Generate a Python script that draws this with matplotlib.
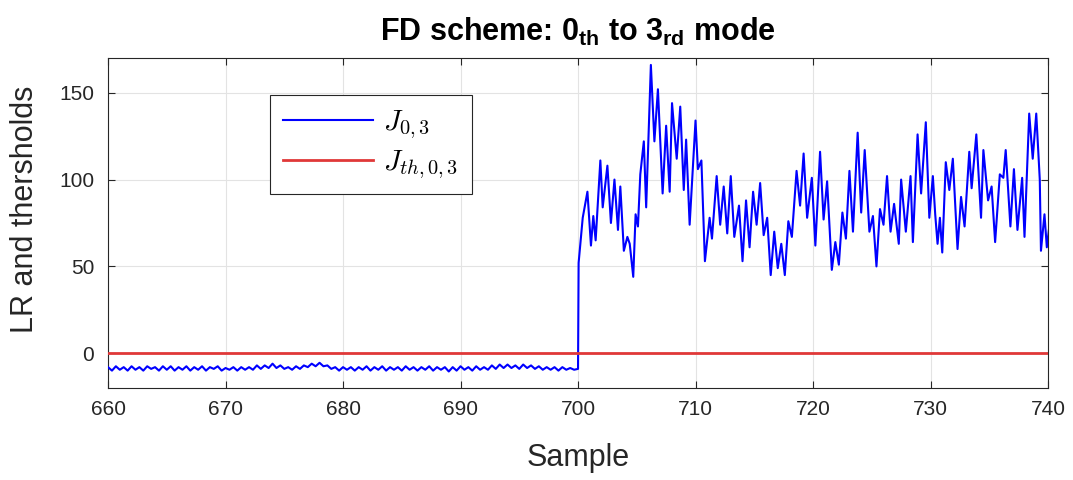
import numpy as np
import matplotlib
matplotlib.use("Agg")
import matplotlib.pyplot as plt
from matplotlib.font_manager import FontProperties

plt.rcParams['font.family'] = ['Liberation Sans', 'DejaVu Sans']
plt.rcParams['mathtext.fontset'] = 'custom'
plt.rcParams['mathtext.rm'] = 'Liberation Sans'
plt.rcParams['mathtext.it'] = 'Liberation Sans:italic'
plt.rcParams['mathtext.bf'] = 'Liberation Sans:bold'

# ---- data ----
pre_start = 660
pre_step = 1.0 / 3.0
pre_values = [
    -8, -10, -7.5, -9.5, -8, -10, -7.5, -9.5, -8, -10, -7.5, -9,
    -8, -10, -7.5, -9.5, -7.5, -10, -8, -9.5, -7.5, -10, -8, -9.5,
    -7.5, -10, -8, -9, -7.5, -10, -8.5, -9.5, -8, -10, -8, -9.5,
    -8, -9.5, -7, -9, -7, -8.5, -6, -8.5, -7, -9, -8, -9.5,
    -7.5, -9, -7, -8, -6, -7.5, -5.5, -7.5, -7, -9, -8, -10,
    -8, -9.5, -8, -10, -8, -9.5, -7.5, -10, -8, -9.5, -7.5, -10,
    -8, -9.5, -8, -10, -7.5, -9.5, -8, -10, -8, -9.5, -7.5, -10,
    -8, -9.5, -8, -10.5, -8, -10, -7.5, -9.5, -8, -10, -7.5, -9.5,
    -8, -9.5, -7, -9, -6.5, -8.5, -6.5, -8.5, -7, -9, -6.5, -8.5,
    -7, -9, -7.5, -9.5, -8, -9.5, -8, -10, -8, -9.5, -8.5, -9.5,
    -9,
]

post_samples = [
    700.05, 700.4, 700.8, 701.1, 701.3, 701.5, 701.9, 702.1, 702.5, 702.8,
    703.1, 703.4, 703.6, 703.9, 704.2, 704.4, 704.7, 704.9, 705.1, 705.3,
    705.6, 705.8, 706.2, 706.5, 706.8, 707.2, 707.5, 707.8, 708.0, 708.4,
    708.7, 709.0, 709.2, 709.5, 710.0, 710.2, 710.5, 710.8, 711.2, 711.4,
    711.8, 712.1, 712.4, 712.7, 713.0, 713.3, 713.7, 714.0, 714.3, 714.6,
    714.9, 715.2, 715.5, 715.8, 716.1, 716.4, 716.7, 717.0, 717.3, 717.6,
    717.9, 718.2, 718.6, 718.9, 719.2, 719.5, 719.9, 720.2, 720.6, 720.9,
    721.2, 721.6, 721.9, 722.2, 722.5, 722.8, 723.1, 723.4, 723.8, 724.1,
    724.4, 724.8, 725.1, 725.4, 725.7, 726.0, 726.3, 726.6, 726.9, 727.3,
    727.5, 727.9, 728.3, 728.5, 728.9, 729.2, 729.6, 729.9, 730.2, 730.4,
    730.6, 730.8, 731.0, 731.3, 731.6, 731.9, 732.3, 732.6, 732.9, 733.3,
    733.5, 733.9, 734.3, 734.5, 734.9, 735.2, 735.5, 735.9, 736.2, 736.4,
    736.8, 737.1, 737.4, 737.8, 738.0, 738.4, 738.7, 739.0, 739.3, 739.4,
    739.7, 739.9, 740.2,
]
post_values = [
    52, 78, 93, 62, 79, 65, 111, 84, 108, 75,
    100, 71, 96, 59, 67, 63, 44, 80, 73, 103,
    122, 84, 166, 122, 152, 92, 131, 93, 144, 112,
    142, 94, 123, 74, 134, 106, 111, 53, 78, 66,
    102, 74, 96, 69, 102, 67, 85, 53, 88, 61,
    93, 74, 98, 68, 78, 45, 70, 49, 63, 45,
    76, 67, 105, 85, 115, 78, 101, 62, 116, 77,
    99, 48, 64, 51, 81, 66, 105, 70, 127, 81,
    117, 70, 79, 50, 83, 74, 102, 70, 86, 63,
    100, 70, 102, 64, 126, 92, 133, 78, 102, 80,
    63, 78, 58, 110, 94, 112, 60, 90, 73, 116,
    95, 126, 78, 117, 88, 96, 64, 103, 101, 117,
    73, 106, 71, 101, 67, 138, 112, 138, 100, 59,
    80, 61, 78,
]

threshold_value = 0.0
x_range = (660, 740)
y_range = (-20, 170)
x_ticks = [660, 670, 680, 690, 700, 710, 720, 730, 740]
y_ticks = [0, 50, 100, 150]

# ---- build series ----
pre_x = pre_start + pre_step * np.arange(len(pre_values))
J_x = np.concatenate([pre_x, np.array(post_samples)])
J_y = np.concatenate([np.array(pre_values, float), np.array(post_values, float)])

fig = plt.figure(figsize=(10.73, 4.80), dpi=100)
ax = fig.add_axes([0.1007, 0.1917, 0.8760, 0.6875])

axcol = '#262626'
ax.plot(J_x, J_y, color='#0000ff', lw=1.5, label=r'$J_{0,3}$', zorder=3)
ax.plot(list(x_range), [threshold_value, threshold_value], color='#e03838', lw=2.0,
        label=r'$J_{th,0,3}$', zorder=4)

ax.set_xlim(*x_range)
ax.set_ylim(*y_range)
ax.set_xticks(x_ticks)
ax.set_yticks(y_ticks)
ax.grid(True, color='#e3e3e3', lw=0.8)
ax.set_axisbelow(True)
ax.tick_params(direction='in', length=5, width=0.8, colors=axcol, labelsize=15,
               top=True, right=True)
ax.tick_params(axis='x', pad=9)
ax.tick_params(axis='y', pad=10)
for s in ax.spines.values():
    s.set_color(axcol)
    s.set_linewidth(0.8)

ax.set_xlabel('Sample', fontsize=22, color=axcol, labelpad=17)
ax.set_ylabel('LR and thersholds', fontsize=22, color=axcol)
ax.yaxis.set_label_coords(-0.072, 0.54)
ax.set_title(r'FD scheme: $\mathbf{0_{th}}$ to $\mathbf{3_{rd}}$ mode',
             fontsize=22, fontweight='bold', color='black', pad=12)

leg = ax.legend(loc='upper left', bbox_to_anchor=(0.172, 0.888), borderaxespad=0,
                prop=FontProperties(size=21, math_fontfamily='cm'),
                fancybox=False, framealpha=1, edgecolor=axcol,
                handlelength=3.1, labelspacing=0.25, borderpad=0.45, handletextpad=0.35)
leg.get_frame().set_linewidth(0.8)

fig.savefig('out.png', dpi=100)
